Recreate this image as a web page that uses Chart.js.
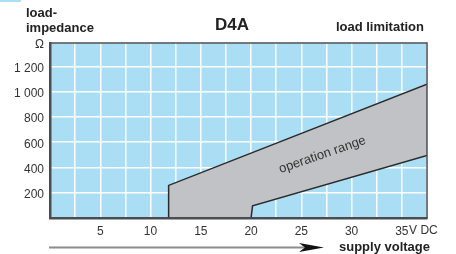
<!DOCTYPE html>
<html>
<head>
<meta charset="utf-8">
<script src="https://cdn.jsdelivr.net/npm/chart.js@4/dist/chart.umd.min.js"></script>
<style>
  html, body { margin: 0; padding: 0; background: #fff; }
  canvas { display: block; }
</style>
</head>
<body>
<canvas id="myChart" width="456" height="254"></canvas>
<script>
// valores (tensão em V, carga em ohm)
var upperVolts = [11.75, 11.8, 37.5];
var upperOhms = [0, 258, 1059];
var lowerVolts = [11.75, 20.0, 20.15, 37.5];
var lowerOhms = [0, 0, 97, 495];

var xTickValues = [5, 10, 15, 20, 25, 30, 35];
var xTickLabels = ['5', '10', '15', '20', '25', '30', '35'];
var yTickValues = [200, 400, 600, 800, 1000, 1200];
var yTickLabels = ['200', '400', '600', '800', '1 000', '1 200'];

var xMax = 37.5;
var yMax = 1385;

var titleText = 'D4A';
var yAxisTitle = ['load-', 'impedance'];
var yUnit = 'Ω';
var rightTitle = 'load limitation';
var xAxisTitle = 'supply voltage';
var xUnit = 'V DC';
var areaLabel = 'operation range';

var blue = '#a9def5';
var grey = '#c1c2c6';
var dark = '#4a4e53';
var font = '"Liberation Sans", Arial, Helvetica, sans-serif';

function toPoints(xs, ys) {
    return xs.map(function (x, i) { return { x: x, y: ys[i] }; });
}

// fundo azul da área do gráfico
var backgroundPlugin = {
    id: 'fundo',
    beforeDraw: function (chart) {
        var ctx = chart.ctx;
        var a = chart.chartArea;
        ctx.save();
        ctx.fillStyle = blue;
        ctx.fillRect(a.left, a.top, a.right - a.left, a.bottom - a.top);
        ctx.fillRect(0, 0, 21, 2);
        ctx.restore();
    }
};

// textos, moldura e seta
var textPlugin = {
    id: 'textos',
    afterDatasetsDraw: function (chart) {
        var ctx = chart.ctx;
        var a = chart.chartArea;
        var xs = chart.scales.x;
        var ys = chart.scales.y;
        ctx.save();

        // moldura
        ctx.strokeStyle = dark;
        ctx.lineWidth = 1.5;
        ctx.strokeRect(a.left, a.top, a.right - a.left, a.bottom - a.top);

        ctx.fillStyle = '#222';
        ctx.textBaseline = 'middle';

        ctx.font = 'bold 17px ' + font;
        ctx.textAlign = 'center';
        ctx.fillText(titleText, 232, 25);

        ctx.font = 'bold 13px ' + font;
        ctx.textAlign = 'left';
        ctx.fillText(yAxisTitle[0], 26, 13);
        ctx.fillText(yAxisTitle[1], 26, 28);
        ctx.textAlign = 'right';
        ctx.fillText(rightTitle, 424, 27);
        ctx.fillText(xAxisTitle, 430, 247);

        // "V DC" depois do 35
        ctx.font = '12px ' + font;
        ctx.fillStyle = '#333';
        ctx.textAlign = 'left';
        var x35 = xs.getPixelForValue(35);
        ctx.fillText(xUnit, x35 + ctx.measureText('35').width / 2 + 0.5, a.bottom + 13);

        // seta do eixo x
        ctx.strokeStyle = '#8c8c8c';
        ctx.lineWidth = 2;
        ctx.beginPath();
        ctx.moveTo(a.left - 1, 247.5);
        ctx.lineTo(306, 247.5);
        ctx.stroke();
        ctx.fillStyle = '#111';
        ctx.beginPath();
        ctx.moveTo(324, 247.5);
        ctx.lineTo(299, 243);
        ctx.lineTo(305, 247.5);
        ctx.lineTo(299, 252);
        ctx.closePath();
        ctx.fill();

        // rótulo da área de operação
        ctx.translate(xs.getPixelForValue(27.1), ys.getPixelForValue(500));
        ctx.rotate(-19 * Math.PI / 180);
        ctx.font = '13px ' + font;
        ctx.fillStyle = '#333';
        ctx.textAlign = 'center';
        ctx.fillText(areaLabel, 0, 0);
        ctx.restore();
    }
};

var config = {
    type: 'line',
    data: {
        datasets: [{
            data: toPoints(upperVolts, upperOhms),
            borderColor: '#2a2a2a',
            borderWidth: 1.5,
            pointRadius: 0,
            fill: false
        }, {
            data: toPoints(lowerVolts, lowerOhms),
            borderColor: '#2a2a2a',
            borderWidth: 1.5,
            pointRadius: 0,
            backgroundColor: grey,
            fill: '-1'
        }]
    },
    options: {
        responsive: false,
        animation: false,
        layout: { padding: { left: 0, right: 29, top: 43, bottom: 0 } },
        plugins: {
            legend: { display: false },
            tooltip: { enabled: false }
        },
        scales: {
            x: {
                type: 'linear',
                min: 0,
                max: xMax,
                afterFit: function (scale) { scale.height = 36; },
                afterBuildTicks: function (scale) {
                    var t = [];
                    for (var v = 0; v <= xMax + 0.001; v += 2.5) t.push({ value: v });
                    scale.ticks = t;
                },
                grid: { color: '#ffffff', lineWidth: 1.5, drawTicks: false },
                border: { display: true, color: dark, width: 2.5 },
                ticks: {
                    padding: 6,
                    maxRotation: 0,
                    autoSkip: false,
                    color: '#333',
                    font: { family: font, size: 12 },
                    callback: function (value) {
                        var i = xTickValues.indexOf(value);
                        return i >= 0 ? xTickLabels[i] : '';
                    }
                }
            },
            y: {
                type: 'linear',
                min: 0,
                max: yMax,
                afterFit: function (scale) { scale.width = 50; },
                afterBuildTicks: function (scale) {
                    var t = [{ value: 0 }];
                    yTickValues.forEach(function (v) { t.push({ value: v }); });
                    t.push({ value: yMax });
                    scale.ticks = t;
                },
                grid: { color: '#ffffff', lineWidth: 1.5, drawTicks: false },
                border: { display: true, color: dark, width: 2.5 },
                ticks: {
                    padding: 6,
                    labelOffset: 2,
                    autoSkip: false,
                    color: '#333',
                    font: { family: font, size: 12 },
                    callback: function (value) {
                        if (value === yMax) return yUnit;
                        var i = yTickValues.indexOf(value);
                        return i >= 0 ? yTickLabels[i] : '';
                    }
                }
            }
        }
    },
    plugins: [backgroundPlugin, textPlugin]
};

var ctx = document.getElementById('myChart').getContext('2d');
var chart = new Chart(ctx, config);
</script>
</body>
</html>
